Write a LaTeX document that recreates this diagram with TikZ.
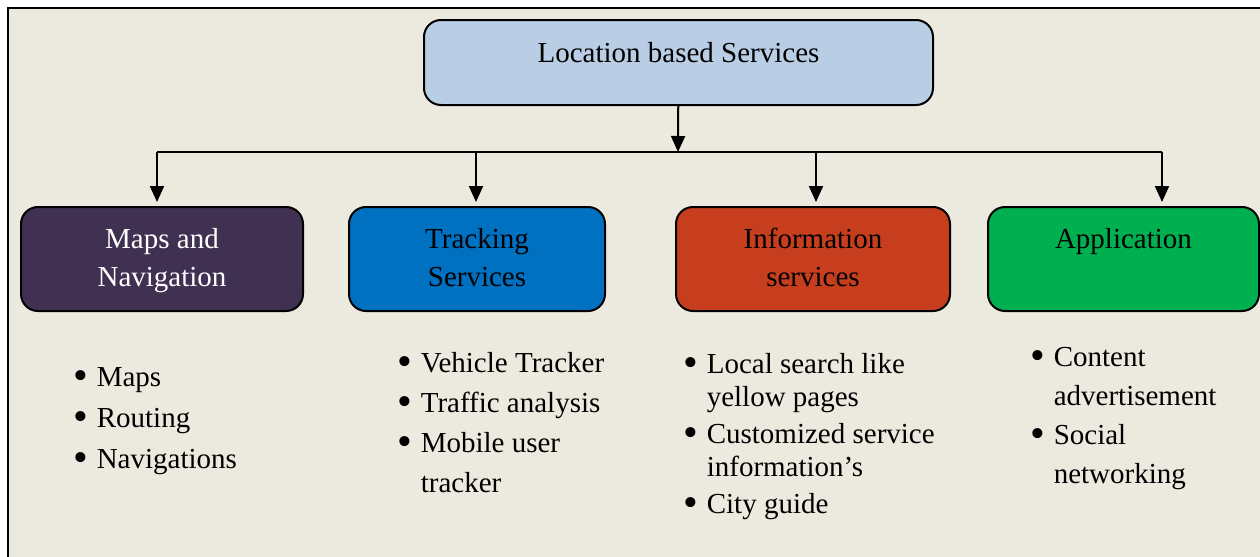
\documentclass[tikz,border=0pt]{standalone}
\usepackage{fontspec}
\setmainfont{Liberation Serif}
\usetikzlibrary{arrows.meta}

\definecolor{paper}{RGB}{236,233,222}
\definecolor{lbsblue}{RGB}{185,205,229}
\definecolor{mapspurple}{RGB}{64,49,82}
\definecolor{trackblue}{RGB}{0,112,192}
\definecolor{infored}{RGB}{199,62,30}
\definecolor{appgreen}{RGB}{0,176,80}

% bullet with hanging indent
\newcommand{\itm}{\makebox[11.5pt][l]{\raisebox{-1.6pt}{\scalebox{1.45}{\textbullet}}}}
\newcommand{\cont}{\hspace*{11.5pt}}
% fixed height/depth for the two-line boxes
\newcommand{\toppad}{\rule{0pt}{12.5pt}}
\newcommand{\botpad}{\rule[-4pt]{0pt}{0pt}}

\begin{document}
\begin{tikzpicture}[x=0.5pt, y=-0.5pt, thick,
    box/.style={draw=black, line width=1pt, rounded corners=8.5pt, align=center,
                inner sep=0pt, font=\fontsize{14.5}{16}\selectfont},
    catbox/.style={box, minimum height=52pt, font=\fontsize{14.5}{19}\selectfont},
    list/.style={align=left, inner sep=0pt, anchor=base west},
    link/.style={line width=1pt, -{Triangle[length=8pt,width=7pt]}}]
    \useasboundingbox (0,0) rectangle (1260,557);
    \clip (0,0) rectangle (1260,557);
    \draw[fill=paper, line width=1pt] (7.5,7.5) rectangle (1300,600);

    % root and the four categories
    \node[box, fill=lbsblue, minimum width=254.5pt, minimum height=42.5pt,
          text height=9pt, text depth=9pt] (lbs) at (678.5,62.5) {Location based Services};
    \node[catbox, fill=mapspurple, text=white, minimum width=141pt] (maps) at (162,259)
        {\toppad Maps and\\Navigation\botpad};
    \node[catbox, fill=trackblue, minimum width=128pt] (track) at (477,259)
        {\toppad Tracking\\Services\botpad};
    \node[catbox, fill=infored, minimum width=137pt] (info) at (813,259)
        {\toppad Information\\services\botpad};
    \node[catbox, fill=appgreen, minimum width=135.5pt,
          text height=10pt, text depth=20.5pt] (app) at (1123.5,259) {Application};

    % bus line
    \coordinate (bus) at (678,152);
    \coordinate (b1) at (157,152);
    \coordinate (b2) at (476,152);
    \coordinate (b3) at (816,152);
    \coordinate (b4) at (1162,152);
    \draw[line width=1pt] (b1) -- (b4);
    \path[link]
    (lbs) edge (bus)
    (b1) edge[shorten >=2pt] (b1 |- maps.north)
    (b2) edge[shorten >=2pt] (b2 |- track.north)
    (b3) edge[shorten >=2pt] (b3 |- info.north)
    (b4) edge[shorten >=2pt] (b4 |- app.north);

    % item lists (placed by the baseline of their last line)
    \node[list, font=\fontsize{14.5}{20.5}\selectfont] (mapslist) at (73,468)
        {\itm Maps\\ \itm Routing\\ \itm Navigations};
    \node[list, font=\fontsize{14.5}{20}\selectfont] (tracklist) at (397,492)
        {\itm Vehicle Tracker\\ \itm Traffic analysis\\ \itm Mobile user\\ \cont tracker};
    \node[list, font=\fontsize{14.5}{16.5}\selectfont] (infolist) at (683,513)
        {\itm Local search like\\ \cont yellow pages\\[2pt] \itm Customized service\\
         \cont information’s\\[2pt] \itm City guide};
    \node[list, font=\fontsize{14.5}{19.5}\selectfont] (applist) at (1030,483)
        {\itm Content\\ \cont advertisement\\ \itm Social\\ \cont networking};
\end{tikzpicture}
\end{document}
